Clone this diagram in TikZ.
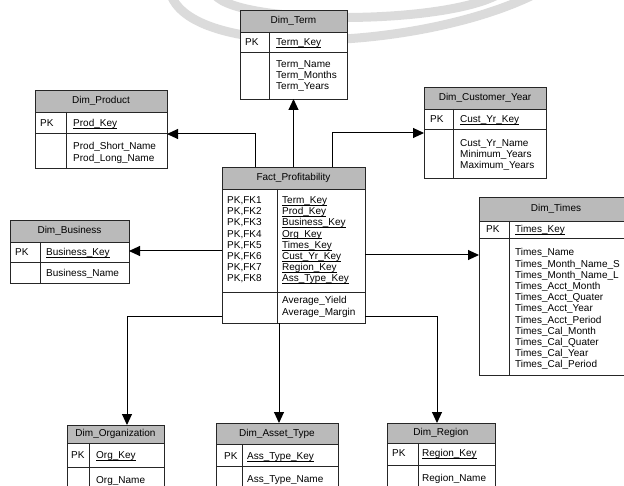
\documentclass[tikz,border=0pt]{standalone}
\usepackage{fontspec}
\setmainfont{Liberation Sans}
\usetikzlibrary{arrows.meta,fit}

\tikzset{
  tabline/.style={draw=black!85, line width=0.9pt},
  hdrfill/.style={fill=black!27},
  txt/.style={font=\fontsize{10}{11.2}\selectfont, inner sep=0pt, align=left},
  fk/.style={draw=black, line width=1pt, -{Triangle[length=11pt,width=10pt]}},
  wmark/.style={draw=black!14, line width=9pt},
}

% key underline close to the baseline
\newcommand{\keyul}[1]{\setbox0\hbox{#1}\rlap{\vrule height -1.3pt depth 1.9pt width \wd0}\box0}

% name, left, top, right, bottom, header bottom, key bottom, divider, title
\newcommand{\dimtab}[9]{%
  \fill[white] (#2,#3) rectangle (#4,#5);
  \fill[hdrfill] (#2,#3) rectangle (#4,#6);
  \node[tabline, inner sep=0pt, outer sep=0pt, fit={(#2,#3) (#4,#5)}] (#1) {};
  \draw[tabline] (#2,#6) -- (#4,#6) (#2,#7) -- (#4,#7) (#8,#6) -- (#8,#5);
  \node[txt] (#1-t) at ({(#2+#4)/2},{(#3+#6)/2}) {#9};
}

\begin{document}
\begin{tikzpicture}[x=1pt,y=-1pt]
\useasboundingbox (0,0) rectangle (624,486);
\clip (0,0) rectangle (624,486);

% faint rings at the top
\draw[wmark] (171,-5) .. controls (195,60) and (420,50) .. (533,-5);
\draw[wmark] (215,-5) .. controls (240,25) and (440,25) .. (497,-5);

% tables
\dimtab{term}{240}{10}{347}{99}{32}{52}{269}{Dim\_Term}
\dimtab{prod}{35}{90}{167}{168}{112}{133}{66}{Dim\_Product}
\dimtab{cust}{424}{87}{546}{178}{109}{129}{453}{Dim\_Customer\_Year}
\dimtab{times}{479}{197}{633}{375}{221}{238}{509}{Dim\_Times}
\dimtab{bus}{10}{220}{129}{283}{242}{262}{40}{Dim\_Business}
\dimtab{fact}{222}{167}{365}{323}{189}{292}{277}{Fact\_Profitability}
\dimtab{org}{67}{425}{164}{500}{443}{467}{89}{Dim\_Organization}
\dimtab{asset}{216}{423}{338}{500}{444}{466}{242}{Dim\_Asset\_Type}
\dimtab{region}{387}{423}{495}{500}{443}{465}{418}{Dim\_Region}

% Dim_Term
\node[txt, anchor=base west] (term-pk) at (245,45.5) {PK};
\node[txt, anchor=base west] (term-key) at (276,45.5) {\keyul{Term\_Key}};
\node[txt, anchor=north west] (term-att) at (276,60.4) {Term\_Name\\Term\_Months\\Term\_Years};

% Dim_Product
\node[txt, anchor=base west] (prod-pk) at (40,126.5) {PK};
\node[txt, anchor=base west] (prod-key) at (73,126.5) {\keyul{Prod\_Key}};
\node[txt, anchor=north west] (prod-att) at (73,142.4) {Prod\_Short\_Name\\Prod\_Long\_Name};

% Dim_Customer_Year
\node[txt, anchor=base west] (cust-pk) at (430,123) {PK};
\node[txt, anchor=base west] (cust-key) at (460,123) {\keyul{Cust\_Yr\_Key}};
\node[txt, anchor=north west] (cust-att) at (460,139.4) {Cust\_Yr\_Name\\Minimum\_Years\\Maximum\_Years};

% Dim_Times
\node[txt, anchor=base west] (times-pk) at (486,233) {PK};
\node[txt, anchor=base west] (times-key) at (515,233) {\keyul{Times\_Key}};
\node[txt, anchor=north west] (times-att) at (515,248.4) {Times\_Name\\Times\_Month\_Name\_S\\Times\_Month\_Name\_L\\
  Times\_Acct\_Month\\Times\_Acct\_Quater\\Times\_Acct\_Year\\Times\_Acct\_Period\\
  Times\_Cal\_Month\\Times\_Cal\_Quater\\Times\_Cal\_Year\\Times\_Cal\_Period};

% Dim_Business
\node[txt, anchor=base west] (bus-pk) at (15,255.5) {PK};
\node[txt, anchor=base west] (bus-key) at (46,255.5) {\keyul{Business\_Key}};
\node[txt, anchor=base west] (bus-att) at (46,276.5) {Business\_Name};

% Fact_Profitability
\node[txt, anchor=north west] (fact-pk) at (227,196.4) {PK,FK1\\PK,FK2\\PK,FK3\\PK,FK4\\PK,FK5\\PK,FK6\\PK,FK7\\PK,FK8};
\node[txt, anchor=north west] (fact-key) at (282,196.4) {\keyul{Term\_Key}\\\keyul{Prod\_Key}\\\keyul{Business\_Key}\\
  \keyul{Org\_Key}\\\keyul{Times\_Key}\\\keyul{Cust\_Yr\_Key}\\\keyul{Region\_Key}\\\keyul{Ass\_Type\_Key}};
\node[txt, anchor=north west] (fact-att) at (282,296.4) {Average\_Yield\\Average\_Margin};

% bottom row
\node[txt, anchor=base west] (org-pk) at (71,458.5) {PK};
\node[txt, anchor=base west] (org-key) at (96,458.5) {\keyul{Org\_Key}};
\node[txt, anchor=base west] (org-att) at (96,483.5) {Org\_Name};
\node[txt, anchor=base west] (asset-pk) at (224,459.5) {PK};
\node[txt, anchor=base west] (asset-key) at (247,459.5) {\keyul{Ass\_Type\_Key}};
\node[txt, anchor=base west] (asset-att) at (247,482.5) {Ass\_Type\_Name};
\node[txt, anchor=base west] (region-pk) at (392,456.5) {PK};
\node[txt, anchor=base west] (region-key) at (422,456.5) {\keyul{Region\_Key}};
\node[txt, anchor=base west] (region-att) at (422,481.5) {Region\_Name};

% connectors
\draw[fk] (fact.north -| term.south) -- (term.south);
\draw[fk] (fact.north -| 255,0) |- (prod.east |- 0,134);
\draw[fk] (fact.north -| 332,0) |- (cust.west |- 0,133);
\draw[fk] (fact.west |- 0,251) -- (bus.east |- 0,251);
\draw[fk] (fact.east |- 0,255) -- (times.west |- 0,255);
\draw[fk] (fact.west |- 0,317) -| (org.north -| 127,0);
\draw[fk] (fact.south -| 279,0) -- (asset.north -| 279,0);
\draw[fk] (fact.east |- 0,317) -| (region.north -| 437,0);
\end{tikzpicture}
\end{document}
